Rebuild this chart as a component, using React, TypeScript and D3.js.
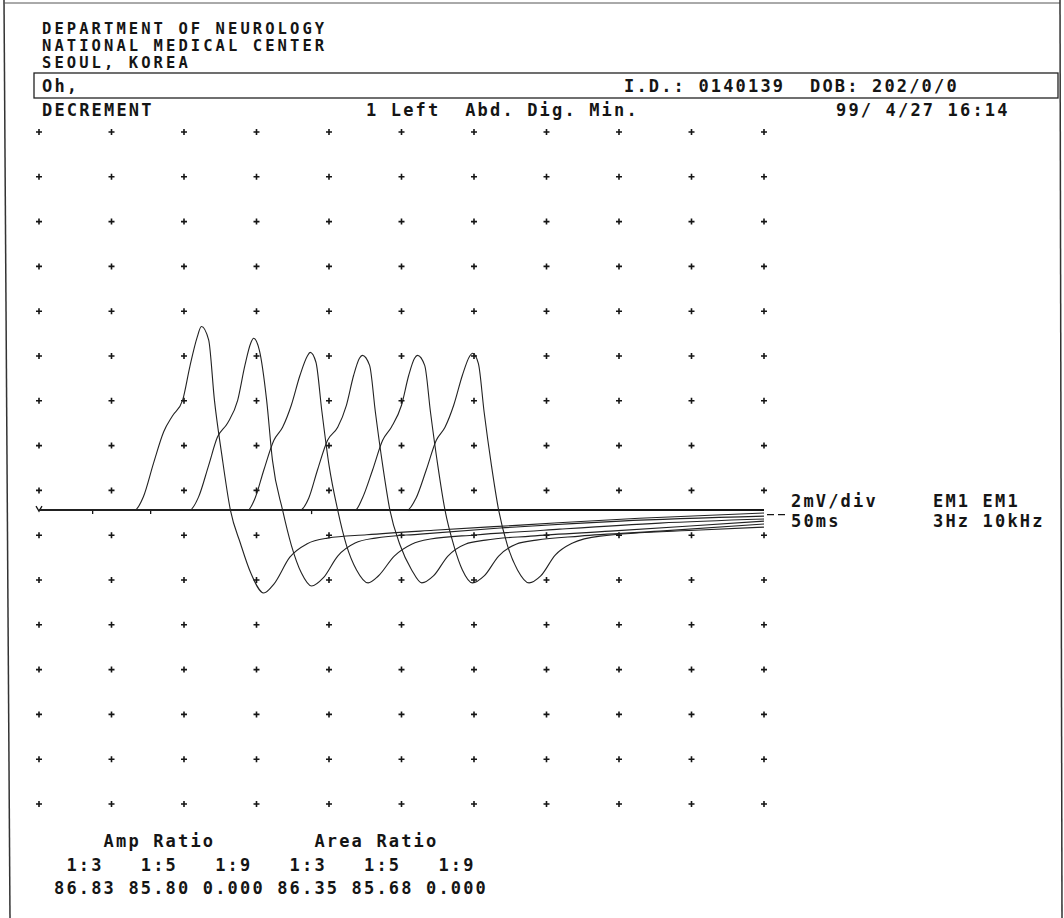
import { useRef, useEffect } from 'react'
import * as d3 from 'd3'

// header / footer text of the printout
const headerLines = ['DEPARTMENT OF NEUROLOGY', 'NATIONAL MEDICAL CENTER', 'SEOUL, KOREA']
const patientName = 'Oh,'
const patientIds = 'I.D.: 0140139  DOB: 202/0/0'
const testName = 'DECREMENT'
const muscleName = '1 Left  Abd. Dig. Min.'
const dateTime = '99/ 4/27 16:14'
const gainLabels = ['2mV/div', '50ms']
const filterLabels = ['EM1 EM1', '3Hz 10kHz']
const ratioHeads = ['Amp Ratio', 'Area Ratio']
const ratioLabels = ['1:3', '1:5', '1:9', '1:3', '1:5', '1:9']
const ratioValues = ['86.83', '85.80', '0.000', '86.35', '85.68', '0.000']

// stimulus marks on the baseline (ms)
const stimMarks = [0, 3.7, 7.7, 18.8]

// six responses of the train, [ms, mV]
const trace1 = [[0,0],[6.6,0],[7.2,0.6],[7.9,2.1],[8.6,3.5],[9.2,4.2],[9.9,4.9],[10.4,6.4],[10.9,7.7],[11.2,8.2],[11.7,7.6],[12.1,4.9],[12.6,2.5],[13.2,0],[13.9,-1.5],[14.6,-2.8],[15.5,-3.7],[16.2,-3.3],[17.3,-2.1],[18.5,-1.5],[19.9,-1.25],[22.6,-1.1],[27.2,-0.9],[33.2,-0.67],[41.4,-0.36],[50,-0.13]]
const trace2 = [[0,0],[10.4,0],[11.0,0.58],[11.7,2.0],[12.3,3.25],[13.0,3.88],[13.7,4.9],[14.2,6.46],[14.6,7.45],[14.8,7.67],[15.2,7.13],[15.7,4.9],[16.1,2.23],[16.8,0],[17.4,-1.56],[18.1,-2.81],[18.8,-3.39],[19.6,-3.03],[20.6,-2.05],[21.8,-1.47],[23.2,-1.25],[26.3,-1.07],[31.8,-0.8],[40.1,-0.49],[50,-0.27]]
const trace3 = [[0,0],[14.4,0],[14.9,0.53],[15.5,1.78],[16.2,3.12],[16.8,3.7],[17.4,4.68],[18.0,6.02],[18.5,6.87],[18.7,7.04],[19.1,6.6],[19.5,4.46],[20.0,2.01],[20.6,0],[21.2,-1.56],[21.9,-2.67],[22.7,-3.25],[23.4,-2.94],[24.5,-2.05],[25.7,-1.52],[27.0,-1.29],[30.1,-1.11],[35.9,-0.85],[42.8,-0.58],[50,-0.4]]
const trace4 = [[0,0],[18.0,0],[18.6,0.53],[19.2,1.78],[19.9,3.12],[20.6,3.7],[21.2,4.68],[21.7,6.02],[22.1,6.78],[22.3,6.91],[22.8,6.46],[23.2,4.37],[23.7,2.01],[24.2,0],[24.9,-1.56],[25.7,-2.67],[26.4,-3.25],[27.2,-2.94],[28.2,-2.05],[29.4,-1.52],[30.8,-1.34],[33.9,-1.16],[39.4,-0.94],[44.9,-0.71],[50,-0.49]]
const trace5 = [[0,0],[21.8,0],[22.3,0.53],[23.0,1.78],[23.7,3.12],[24.3,3.7],[25.0,4.68],[25.5,6.02],[25.9,6.78],[26.1,6.91],[26.6,6.46],[27.0,4.37],[27.5,2.01],[28.0,0],[28.6,-1.56],[29.2,-2.67],[29.9,-3.25],[30.7,-2.94],[31.7,-2.05],[32.9,-1.52],[34.3,-1.34],[37.3,-1.16],[42.8,-0.94],[50,-0.62]]
const trace6 = [[0,0],[25.4,0],[26.0,0.53],[26.7,1.78],[27.4,3.12],[28.0,3.7],[28.6,4.68],[29.2,6.02],[29.7,6.87],[29.9,7.0],[30.3,6.55],[30.7,4.37],[31.2,2.01],[31.7,0],[32.3,-1.56],[33.0,-2.67],[33.8,-3.25],[34.6,-2.94],[35.6,-2.01],[36.8,-1.47],[38.7,-1.16],[45.6,-0.89],[50,-0.76]]
const traces = [trace1, trace2, trace3, trace4, trace5, trace6]

const FONT = "'DejaVu Sans Mono', monospace"
const INK = '#151515'
const PITCH = 12.4

function App() {
  const ref = useRef<SVGSVGElement>(null)

  useEffect(() => {
    const svg = d3.select(ref.current)
    svg.selectAll('*').remove()

    // 50 ms sweep over 10 divisions, 2 mV per division
    const x = d3.scaleLinear().domain([0, 50]).range([39, 764])
    const y = d3.scaleLinear().domain([-13.12, 16.88]).range([804, 132])

    const colsMs = d3.range(0, 51, 5)
    const rowsMv = d3.range(16).map(i => 16.88 - 2 * i)

    // page frame
    svg.append('line').attr('x1', 4).attr('y1', 0).attr('x2', 10).attr('y2', 918)
      .attr('stroke', '#333').attr('stroke-width', 1.5)
    svg.append('line').attr('x1', 4).attr('y1', 3).attr('x2', 1060).attr('y2', 3)
      .attr('stroke', '#555').attr('stroke-width', 1)
    svg.append('line').attr('x1', 1060).attr('y1', 0).attr('x2', 1062).attr('y2', 918)
      .attr('stroke', '#333').attr('stroke-width', 1.5)

    const txt = (s: string, tx: number, ty: number, size = 17) =>
      svg.append('text')
        .attr('x', tx).attr('y', ty)
        .attr('font-family', FONT)
        .attr('font-size', size)
        .attr('font-weight', 'bold')
        .attr('letter-spacing', PITCH - size * 0.602)
        .attr('fill', INK)
        .style('white-space', 'pre')
        .text(s)

    headerLines.forEach((l, i) => txt(l, 42, 34 + i * 17, 15.5))

    svg.append('rect').attr('x', 34).attr('y', 73).attr('width', 1024).attr('height', 25)
      .attr('fill', 'none').attr('stroke', '#222').attr('stroke-width', 1.3)
    txt(patientName, 42, 92)
    txt(patientIds, 624, 92)

    txt(testName, 42, 116)
    txt(muscleName, 366, 116)
    txt(dateTime, 836, 116)

    // grid of + marks
    const plus = svg.append('g').attr('stroke', INK).attr('stroke-width', 1.6)
    rowsMv.forEach(r => {
      colsMs.forEach(c => {
        plus.append('path')
          .attr('d', `M${x(c) - 3},${y(r)}h6M${x(c)},${y(r) - 3}v6`)
      })
    })

    // baseline and stim ticks
    svg.append('line')
      .attr('x1', x(0)).attr('x2', x(50))
      .attr('y1', y(0)).attr('y2', y(0))
      .attr('stroke', INK).attr('stroke-width', 2)
    svg.append('g').selectAll('path')
      .data(stimMarks)
      .enter()
      .append('path')
      .attr('d', (d, i) => i === 0
        ? `M${x(d) - 3},${y(0) - 4}L${x(d)},${y(0) + 1}L${x(d) + 3},${y(0) - 4}`
        : `M${x(d)},${y(0) - 1}v5`)
      .attr('fill', 'none')
      .attr('stroke', INK).attr('stroke-width', 1.3)

    const line = d3.line<number[]>()
      .x(d => x(d[0]))
      .y(d => y(d[1]))
      .curve(d3.curveMonotoneX)

    svg.append('g').selectAll('path')
      .data(traces)
      .enter()
      .append('path')
      .attr('d', d => line(d))
      .attr('fill', 'none')
      .attr('stroke', '#222')
      .attr('stroke-width', 1.1)

    // trace position marker
    svg.append('line')
      .attr('x1', x(50) + 3).attr('x2', x(50) + 24)
      .attr('y1', y(-0.2)).attr('y2', y(-0.2))
      .attr('stroke', INK).attr('stroke-width', 1.3)
      .attr('stroke-dasharray', '7,4')

    txt(gainLabels[0], 791, 507)
    txt(gainLabels[1], 791, 527)
    txt(filterLabels[0], 933, 507)
    txt(filterLabels[1], 933, 527)

    // ratio table, fixed 6-character fields
    const field = 6 * PITCH
    txt(ratioHeads[0], 54 + 4 * PITCH, 847)
    txt(ratioHeads[1], 54 + 21 * PITCH, 847)
    ratioLabels.forEach((l, i) => txt(l, 54 + PITCH + i * field, 871))
    ratioValues.forEach((v, i) => txt(v, 54 + i * field, 894))
  }, [])

  return (
    <div style={{ position: 'absolute', left: 0, top: 0, background: '#fff' }}>
      <svg ref={ref} width={1064} height={918} viewBox="0 0 1064 918" style={{ display: 'block' }}>
      </svg>
    </div>
  )
}

export default App
